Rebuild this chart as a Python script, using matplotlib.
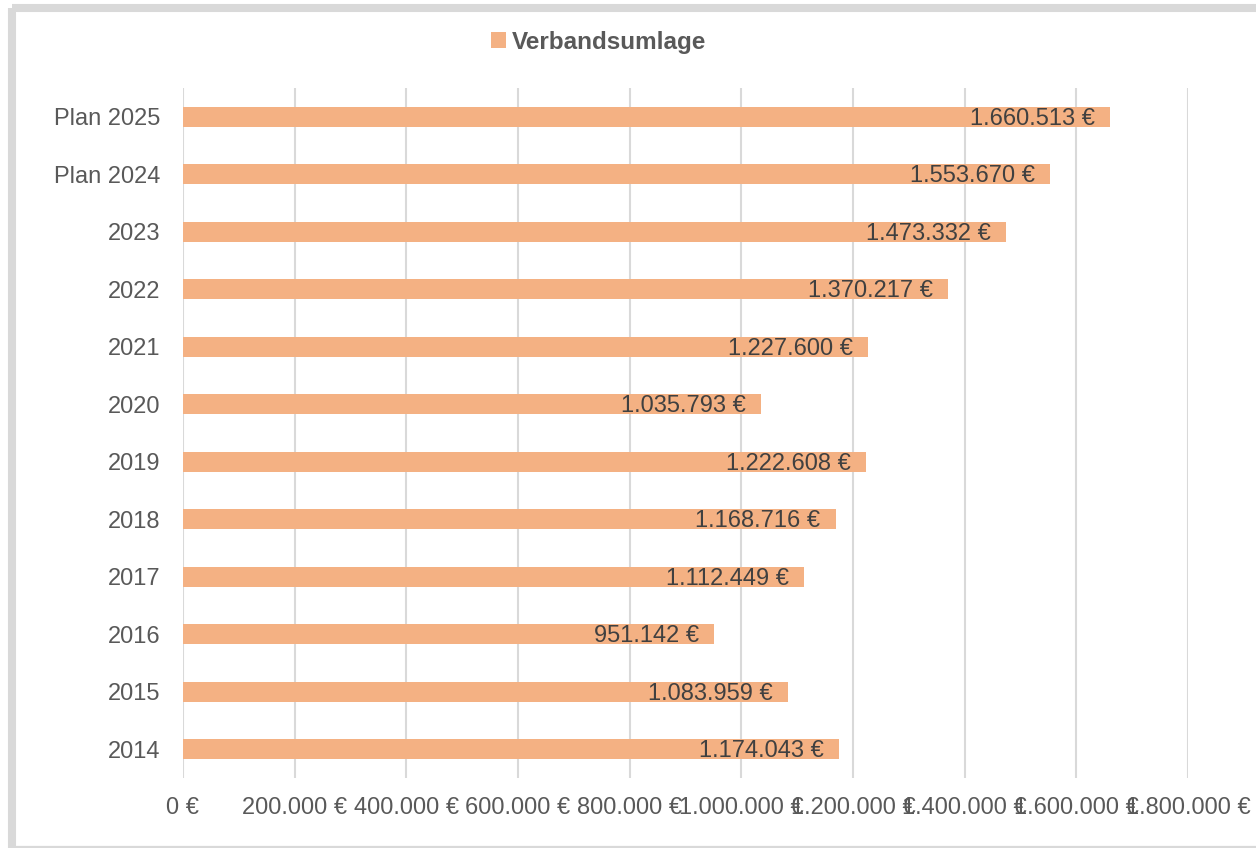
import matplotlib
matplotlib.use("Agg")
from matplotlib import pyplot
from matplotlib.lines import Line2D
from matplotlib.ticker import FuncFormatter, MultipleLocator


years = ["2014", "2015", "2016", "2017", "2018", "2019",
         "2020", "2021", "2022", "2023", "Plan 2024", "Plan 2025"]
umlage = [1174043, 1083959, 951142, 1112449, 1168716, 1222608,
          1035793, 1227600, 1370217, 1473332, 1553670, 1660513]

BAR = "#F4B183"
GRID = "#D9D9D9"
TXT = "#595959"

pyplot.rcParams["font.family"] = ["Liberation Sans", "DejaVu Sans"]


def euro(v, pos=None):
    return "{:,.0f} €".format(v).replace(",", ".")


fig = pyplot.figure(figsize=(12.56, 8.48), dpi=100)
ax = fig.add_axes([183 / 1256, 1 - 778 / 848, (1188 - 183) / 1256, (778 - 88) / 848])

pos = list(range(len(years)))
ax.barh(pos, umlage, height=0.35, color=BAR, label="Verbandsumlage", zorder=2)
for p, v in zip(pos, umlage):
    ax.annotate(euro(v), (v, p), xytext=(-15, -2), textcoords="offset pixels",
                ha="right", va="center", fontsize=17, color="#404040", zorder=3)

ax.set_xlim(0, 1800000)
ax.set_ylim(-0.5, len(years) - 0.5)
ax.xaxis.set_major_locator(MultipleLocator(200000))
ax.xaxis.set_major_formatter(FuncFormatter(euro))
ax.set_yticks(pos)
ax.set_yticklabels(years)
ax.grid(axis="x", color=GRID, linewidth=1.5, zorder=0)
ax.tick_params(axis="both", length=0, labelsize=17, labelcolor=TXT)
ax.tick_params(axis="y", pad=16)
ax.tick_params(axis="x", pad=14)
for s in ax.spines.values():
    s.set_visible(False)

fig.legend(loc="center", bbox_to_anchor=(599 / 1256, 1 - 42 / 848), frameon=False,
           handlelength=0.6, handleheight=0.6, handletextpad=0.25,
           prop={"size": 17.5, "weight": "bold"}, labelcolor=TXT)

# outer frame: thick top and left edges, thin bottom edge
W, H = 1256, 848
frame = [((12, 1256), (8, 8), 5.8),
         ((12, 12), (8, 848), 5.8),
         ((12, 1256), (846.8, 846.8), 1.6)]
for xs, ys, lw in frame:
    fig.add_artist(Line2D([x / W for x in xs], [1 - y / H for y in ys],
                          transform=fig.transFigure, color=GRID,
                          linewidth=lw, solid_capstyle="butt"))

pyplot.savefig("out.png", dpi=100)
